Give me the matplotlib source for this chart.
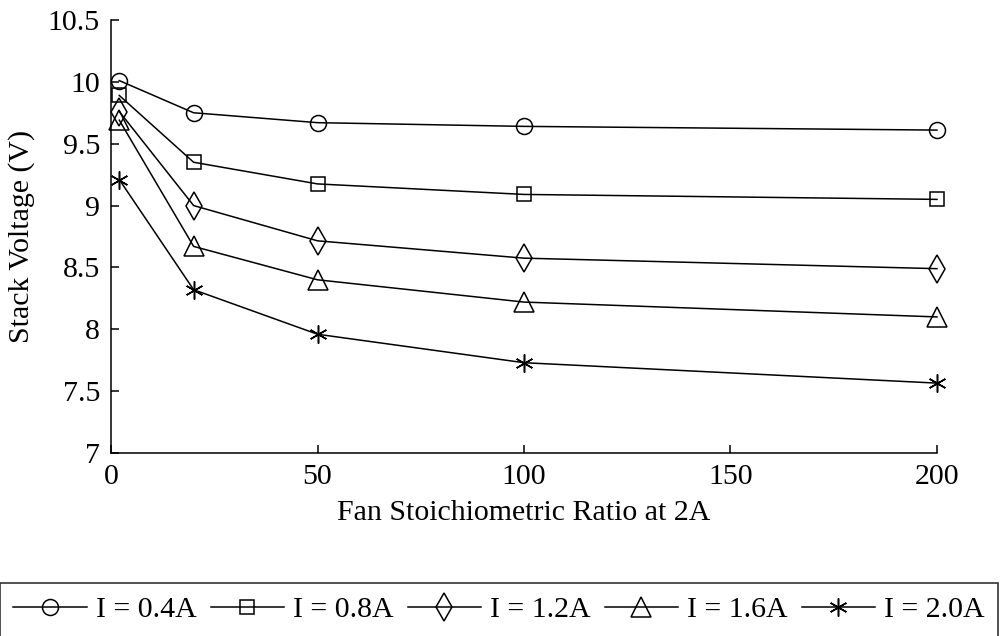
import matplotlib
matplotlib.use("Agg")
import matplotlib.pyplot as plt

plt.rcParams['font.family'] = ['Liberation Serif', 'DejaVu Serif']

# Fan stoichiometric ratio and stack voltage for each load current
ratio = [2, 20, 50, 100, 200]
v_04 = [10.01, 9.75, 9.67, 9.64, 9.61]
v_08 = [9.89, 9.35, 9.175, 9.09, 9.05]
v_12 = [9.76, 9.00, 8.715, 8.575, 8.49]
v_16 = [9.69, 8.67, 8.40, 8.22, 8.10]
v_20 = [9.21, 8.32, 7.96, 7.73, 7.565]

labels = ["I = 0.4A", "I = 0.8A", "I = 1.2A", "I = 1.6A", "I = 2.0A"]
xticks = [0, 50, 100, 150, 200]
yticks = [7, 7.5, 8, 8.5, 9, 9.5, 10, 10.5]
ytick_labels = ["7", "7.5", "8", "8.5", "9", "9.5", "10", "10.5"]

FS = 21.5

fig = plt.figure(figsize=(10.02, 6.36), dpi=100)
ax = fig.add_axes([0.1108, 0.2877, 0.8243, 0.6809])

asterisk = (6, 2, 0)
styles = [
    dict(marker='o', markersize=11.5),
    dict(marker='s', markersize=9.5),
    dict(marker='d', markersize=14),
    dict(marker='^', markersize=14),
    dict(marker=asterisk, markersize=13),
]
series = [v_04, v_08, v_12, v_16, v_20]
for vals, lab, st in zip(series, labels, styles):
    ax.plot(ratio, vals, color='black', lw=1.1, mfc='none', mec='black',
            mew=1.1, label=lab, clip_on=False, **st)

ax.set_xlim(0, 200)
ax.set_ylim(7, 10.5)
ax.set_xticks(xticks)
ax.set_yticks(yticks)
ax.set_yticklabels(ytick_labels)
ax.spines['top'].set_visible(False)
ax.spines['right'].set_visible(False)
for s in ('left', 'bottom'):
    ax.spines[s].set_linewidth(1.1)
ax.tick_params(direction='in', length=6, width=1.1, labelsize=FS, pad=8)

ax.set_xlabel("Fan Stoichiometric Ratio at 2A", fontsize=FS, labelpad=7)
ax.set_ylabel("Stack Voltage (V)", fontsize=FS, labelpad=9)

leg = fig.legend(loc='upper left', bbox_to_anchor=(0.0, 0.0833),
                 bbox_transform=fig.transFigure,
                 ncol=5, fontsize=FS, frameon=True, fancybox=False,
                 edgecolor='black', handlelength=2.45, handletextpad=0.3,
                 columnspacing=0.48, borderpad=0.45, borderaxespad=0.0)
leg.get_frame().set_linewidth(1.2)

fig.savefig("out.png", dpi=100)
